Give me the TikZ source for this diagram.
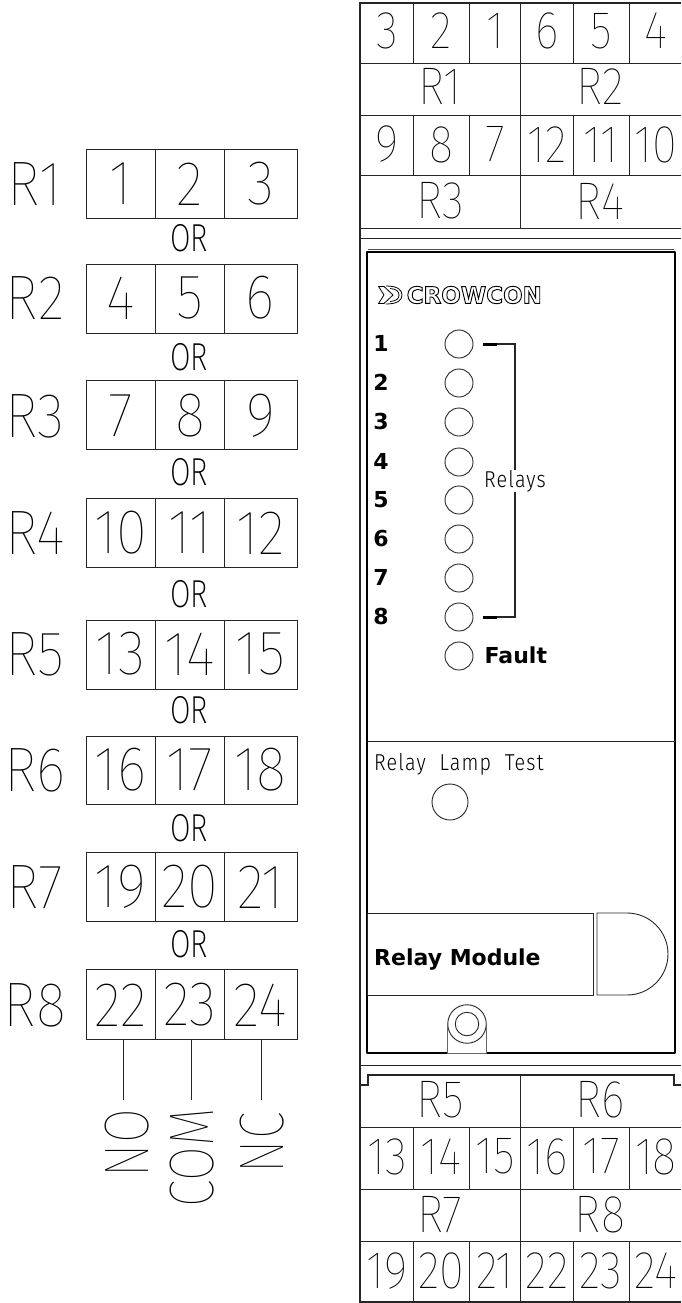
\documentclass[tikz,border=0pt]{standalone}
\usepackage{fontspec}
\setmainfont{Liberation Sans}
\newfontfamily\thinbig[FakeStretch=0.9]{Fira Sans Thin}
\newfontfamily\thinrot[FakeStretch=0.8]{Fira Sans Thin}
\newfontfamily\thinmid[FakeStretch=0.86]{Fira Sans Thin}
\newfontfamily\thinor[FakeStretch=0.76]{Fira Sans ExtraLight}
\newfontfamily\thinsmall[FakeStretch=0.86,LetterSpace=5]{Fira Sans Light}
\newfontfamily\heavy{DejaVu Sans Bold}
\tikzset{
  wire/.style={line width=0.9pt,draw=black!85},
  heavyline/.style={line width=1.7pt,draw=black},
  bigtxt/.style={inner sep=0pt,font=\fontsize{63}{63}\selectfont\thinbig},
  rottxt/.style={inner sep=0pt,rotate=90,font=\fontsize{63}{63}\selectfont\thinrot},
  midtxt/.style={inner sep=0pt,font=\fontsize{53}{53}\selectfont\thinmid},
  ortxt/.style={inner sep=0pt,font=\fontsize{39}{39}\selectfont\thinor},
  smalltxt/.style={inner sep=0pt,font=\fontsize{23}{23}\selectfont\thinsmall},
  boldtxt/.style={inner sep=0pt,font=\fontsize{22}{22}\selectfont\heavy},
  led/.style={circle,draw=black!85,line width=0.9pt,minimum size=28pt,inner sep=0pt},
}
\begin{document}
\begin{tikzpicture}[x=1pt,y=-1pt]
\useasboundingbox (0,0) rectangle (681,1303);
% ---- left terminal blocks
\foreach \r/\t/\b/\m/\p/\q/\s in {1/149/218/184/1/2/3,2/264/333/298/4/5/6,3/380/449/416/7/8/9,4/498/567/533/10/11/12,5/620/689/654/13/14/15,6/736/804/770/16/17/18,7/852/921/887/19/20/21,8/969/1039/1005/22/23/24}{
  \node[bigtxt] (lab\r) at (35,\m) {R\r};
  \node[wire,draw,rectangle,inner sep=0pt,minimum width=69pt,minimum height={\b-\t}] (ca\r) at (120.5,{(\t+\b)/2}) {};
  \node[wire,draw,rectangle,inner sep=0pt,minimum width=69pt,minimum height={\b-\t}] (cb\r) at (189.5,{(\t+\b)/2}) {};
  \node[wire,draw,rectangle,inner sep=0pt,minimum width=73pt,minimum height={\b-\t}] (cc\r) at (260.5,{(\t+\b)/2}) {};
  \node[bigtxt] at (120.5,\m) {\p};
  \node[bigtxt] at (190,\m) {\q};
  \node[bigtxt] at (260.5,\m) {\s};
}
\foreach \i/\y in {1/238.5,2/357,3/472,4/594,5/710,6/828,7/944}{
  \node[ortxt] (or\i) at (189,\y) {OR};
}
% wires and their labels
\node[rottxt] (no) at (127.5,1143) {NO};
\node[rottxt] (com) at (192,1158) {COM};
\node[rottxt] (nc) at (262,1143) {NC};
\coordinate (wa) at (123,1100); \coordinate (wb) at (191,1100); \coordinate (wc) at (261,1100);
\draw[wire] (ca8.south -| wa) -- (wa);
\draw[wire] (cb8.south -| wb) -- (wb);
\draw[wire] (cc8.south -| wc) -- (wc);
% ---- right: housing outlines
\draw[wire,line width=1.1pt] (681,3) -- (360,3) -- (360,1302) -- (681,1302);
\foreach \y in {63,115,175,228,238,1127,1189,1241,1065}{\draw[wire] (360,\y) -- (681,\y);}
\draw[wire] (520,3) -- (520,228);
\draw[wire] (520,1075) -- (520,1302);
\foreach \x in {413,469,573,629}{
  \draw[wire] (\x,3) -- (\x,63);
  \draw[wire] (\x,115) -- (\x,175);
  \draw[wire] (\x,1127) -- (\x,1189);
  \draw[wire] (\x,1241) -- (\x,1302);
}
\draw[wire,line width=1.1pt] (360,1085) -- (368,1085) -- (368,1075) -- (674,1075) -- (674,1085) -- (681,1085);
% texts of the terminal tables
\foreach \x/\p/\q/\u/\v in {387/3/9/13/19,441/2/8/14/20,495/1/7/15/21,547/6/12/16/22,601/5/11/17/23,656/4/10/18/24}{
  \node[midtxt] at (\x,31) {\p};
  \node[midtxt] at (\x,144.5) {\q};
  \node[midtxt] at (\x,1156.5) {\u};
  \node[midtxt] at (\x,1271) {\v};
}
\foreach \x/\a/\b/\c/\d in {440/1/3/5/7,600/2/4/6/8}{
  \node[midtxt] at (\x,86.5) {R\a};
  \node[midtxt] at (\x,201) {R\b};
  \node[midtxt] at (\x,1099.5) {R\c};
  \node[midtxt] at (\x,1214.5) {R\d};
}
% ---- front panel
\draw[wire,line width=0.8pt,draw=black!70] (368,249.5) -- (674,249.5);
\draw[heavyline,line join=round] (367,252) rectangle (675,1053);
\draw[wire] (367,741) -- (675,741);
% logo
\draw[line width=0.8pt,line join=round] (378.5,286.5) -- (384,286.5) -- (393,295) -- (384,303.5) -- (378.5,303.5) -- (384,295) -- cycle;
\draw[line width=0.8pt] (386,286) .. controls (398,286) and (402,290) .. (402,295) .. controls (402,300) and (398,304) .. (386,304);
\draw[line width=0.8pt] (390,288.5) .. controls (396,289) and (399,291) .. (399,295) .. controls (399,299) and (396,301) .. (390,301.5);
\node[inner sep=0pt,anchor=west,font=\fontsize{23}{23}\selectfont\heavy] (logo) at (406.5,295) {\special{pdf:code q 1 Tr 0.9 w}CROWCON\special{pdf:code Q}};
% LEDs and numbers
\foreach \i/\y in {1/344,2/383,3/422,4/462,5/500,6/539,7/578,8/617}{
  \node[led] (led\i) at (459,\y) {};
  \node[boldtxt] (num\i) at (381,\y-.5) {\i};
}
\node[led] (ledf) at (459,656) {};
\node[boldtxt,anchor=west] (fault) at (484.5,655.5) {Fault};
% bracket
\coordinate (ba) at (483,344); \coordinate (bb) at (483,617);
\node[smalltxt] (relays) at (515,481) {Relays};
\draw[wire,line width=1.5pt] (ba) -- (515,344) -- (relays.north -| 515,344);
\draw[wire,line width=1.5pt] (bb) -- (515,617) -- (relays.south -| 515,617);
\draw[line width=3pt] (ba) -- (497,344);
\draw[line width=3pt] (bb) -- (497,617);
% lamp test
\node[smalltxt,anchor=base west] (lamp) at (374,770) {Relay\hspace{7pt} Lamp\hspace{7pt} Test};
\node[led,minimum size=36pt] (test) at (450,802) {};
% module label and pull handle
\draw[wire] (367,913) rectangle (593,995);
\node[boldtxt,anchor=base west] (modlab) at (374,965) {Relay Module};
\draw[wire] (627,995) -- (597,995) -- (597,913) -- (627,913) arc[start angle=90,end angle=-90,radius=41pt];
% screw
\node[circle,draw=black!85,line width=0.9pt,minimum size=38.5pt,inner sep=0pt] (screw) at (467,1024) {};
\node[circle,draw=black!85,line width=0.9pt,minimum size=23.5pt,inner sep=0pt] (hole) at (467,1024) {};
\draw[white,line width=2.2pt] (447.5,1053) -- (486.5,1053);
\draw[wire,draw=black!60] (447.5,1024) -- (447.5,1053.5) -- (486.5,1053.5) -- (486.5,1024);
\end{tikzpicture}
\end{document}
